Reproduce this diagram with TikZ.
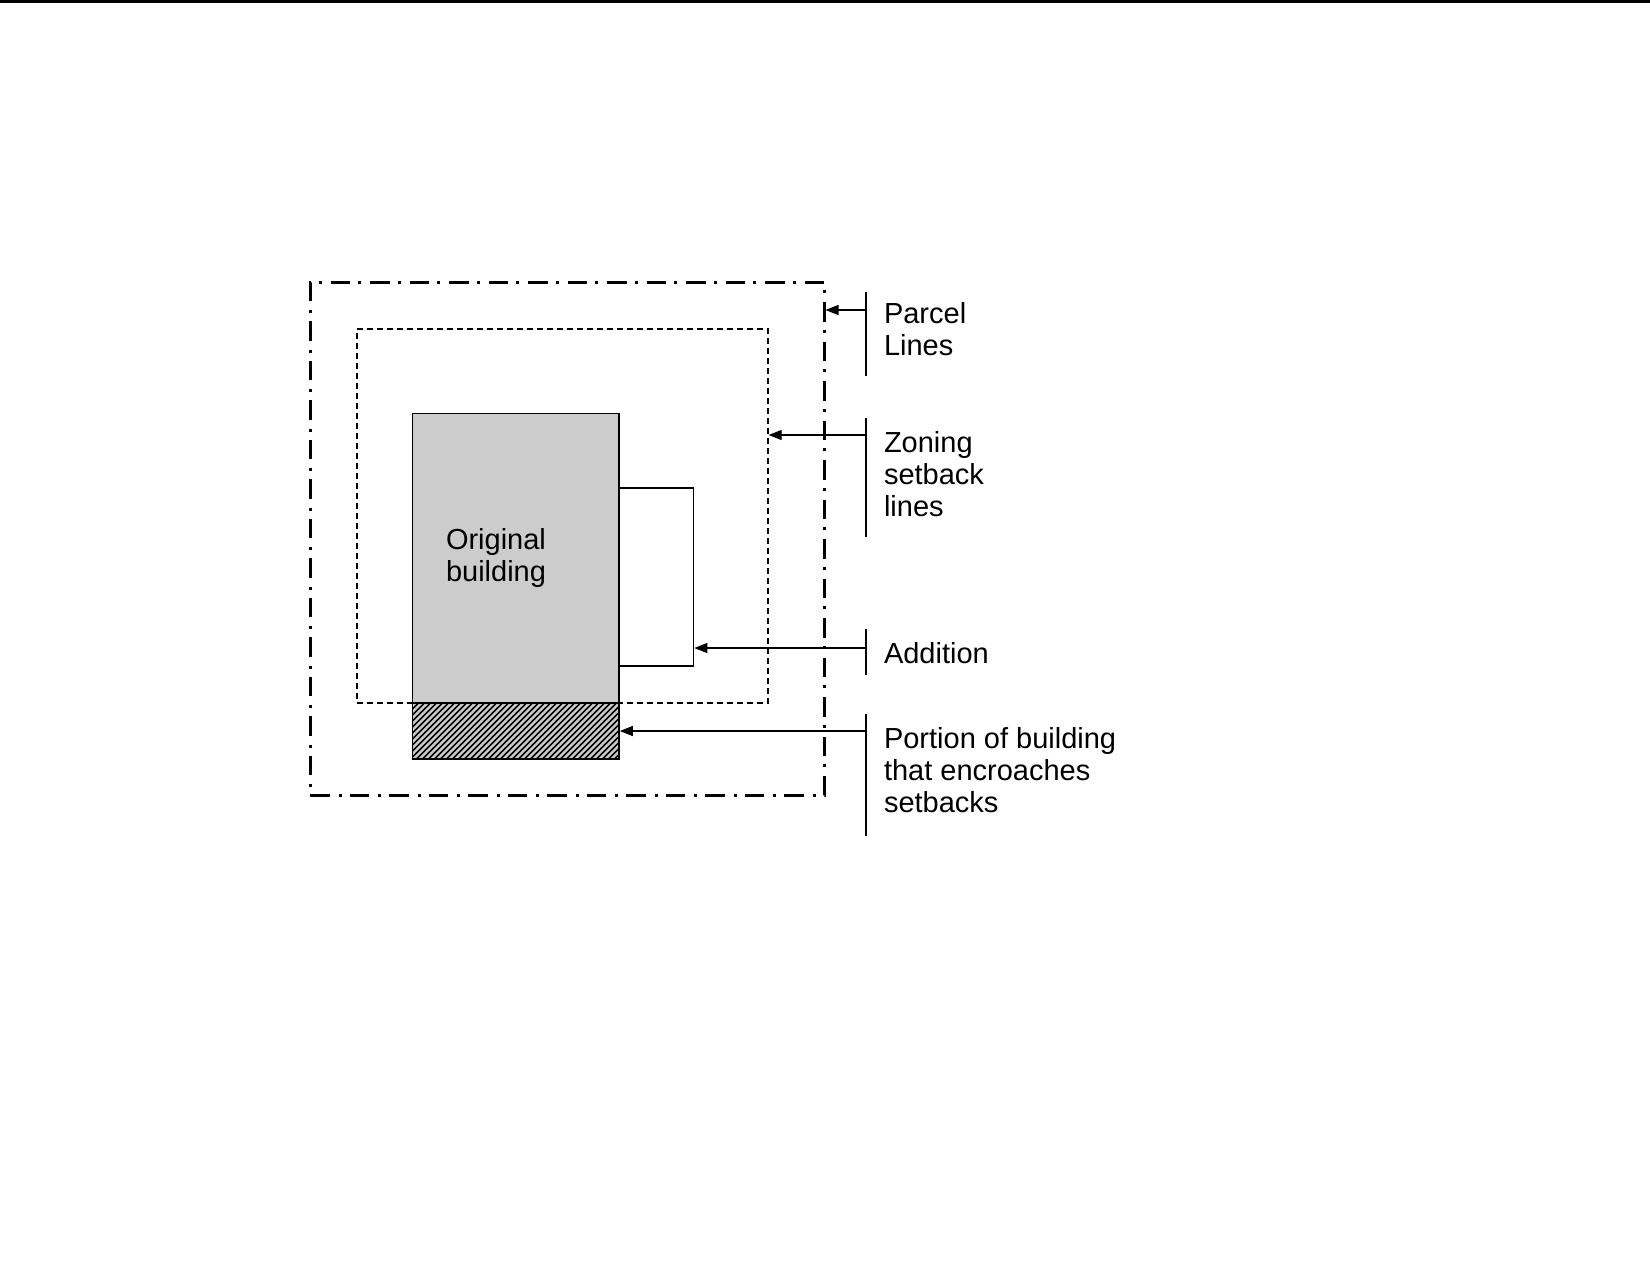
\documentclass[tikz,border=0pt]{standalone}
\usepackage{fontspec}
\setmainfont{Liberation Sans}
\usetikzlibrary{arrows.meta}
\definecolor{bgray}{RGB}{204,204,204}
\begin{document}
\begin{tikzpicture}[x=0.5pt,y=-0.5pt,
  box/.style={draw, inner sep=0pt, outer sep=0pt, line width=0.8pt},
  parcelline/.style={line width=1.5pt, dash pattern=on 9.75pt off 4.5pt on 1.5pt off 4pt},
  setbackline/.style={line width=0.6pt, dash pattern=on 3pt off 2pt},
  leader/.style={line width=0.6pt, -{Triangle[length=6.5pt,width=5pt]}},
  tickline/.style={line width=0.7pt},
  lbl/.style={anchor=base west, inner sep=0pt, outer sep=0pt, align=left,
              font=\fontsize{14.5pt}{15.9pt}\selectfont}]
\useasboundingbox (0,0) rectangle (1650,1275);
\draw[line width=1.2pt] (0,1.5) -- (1650,1.5);

% parcel and setback lines
\node[box, parcelline, minimum width=257pt, minimum height=256.5pt] (parcel) at (567,538.5) {};
\node[box, setbackline, minimum width=205.5pt, minimum height=187pt] (setback) at (562.5,516) {};

% original building, addition, encroaching portion
\node[box, fill=bgray, minimum width=103.25pt, minimum height=144.75pt] (building) at (515.75,558.25) {};
\node[box, fill=white, minimum width=37.25pt, minimum height=89pt] (addition) at (656.25,577) {};
\node[inner sep=0pt, outer sep=0pt, fill=bgray, minimum width=103.25pt, minimum height=28pt] (hatch) at (515.75,731) {};
\begin{scope}
  \clip (hatch.south west) rectangle (hatch.north east);
  \foreach \i in {0,...,45}
    \draw[line width=0.75pt] ({356.5+6*\i},759) -- ({412.5+6*\i},703);
\end{scope}
\draw[line width=0.8pt] (hatch.south west) rectangle (hatch.north east);

% multi-line labels: base anchor is the baseline of the last line
\node[lbl] (bldlbl) at (446,581) {Original\\building};

% leaders
\coordinate (p1) at (866,292); \coordinate (p2) at (866,376);
\draw[tickline] (p1) -- (p2);
\coordinate (pa) at (866,310);
\draw[leader, shorten >=0.75pt] (pa) -- (pa -| parcel.east);
\node[lbl] (parcellbl) at (884,355) {Parcel\\Lines};

\coordinate (z1) at (866,418); \coordinate (z2) at (866,537);
\draw[tickline] (z1) -- (z2);
\coordinate (za) at (866,435);
\draw[leader, shorten >=0.3pt] (za) -- (za -| setback.east);
\node[lbl] (zonelbl) at (884,516) {Zoning\\setback\\lines};

\coordinate (a1) at (866,629); \coordinate (a2) at (866,674.5);
\draw[tickline] (a1) -- (a2);
\coordinate (aa) at (866,648);
\draw[leader, shorten >=0.4pt] (aa) -- (aa -| addition.east);
\node[lbl] (addlbl) at (884,663) {Addition};

\coordinate (e1) at (866,713.5); \coordinate (e2) at (866,836);
\draw[tickline] (e1) -- (e2);
\coordinate (ea) at (866,731);
\draw[leader, shorten >=0.4pt] (ea) -- (ea -| hatch.east);
\node[lbl] (portlbl) at (884,812) {Portion of building\\that encroaches\\setbacks};
\end{tikzpicture}
\end{document}
